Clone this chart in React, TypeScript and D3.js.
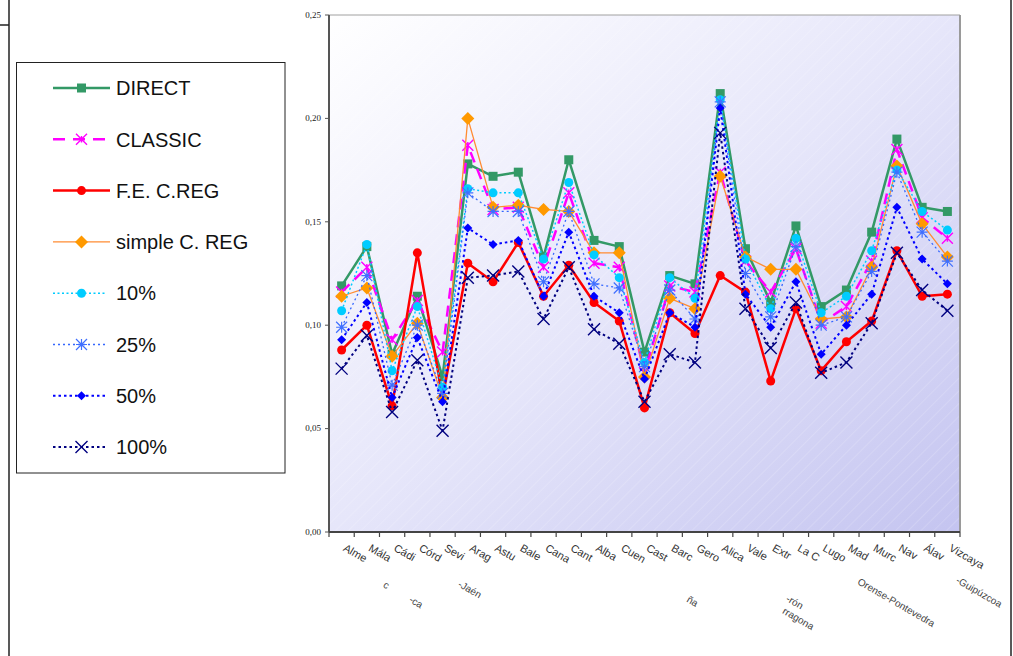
import React from 'react'
import * as d3 from 'd3'

// province labels as they show under the axis (Excel cut them short)
const categories = [
  'Alme', 'Mála', 'Cádi', 'Córd', 'Sevi', 'Arag', 'Astu', 'Bale', 'Cana', 'Cant',
  'Alba', 'Cuen', 'Cast', 'Barc', 'Gero', 'Alica', 'Vale', 'Extr', 'La C', 'Lugo',
  'Mad', 'Murc', 'Nav', 'Álav', 'Vizcaya',
]

// stray pieces of wrapped second lines: category index, text, line number, shift along the label
const labelFragments = [
  { index: 1, text: 'c', line: 2, shift: 31 },
  { index: 2, text: '-ca', line: 3, shift: 39 },
  { index: 4, text: '-Jaén', line: 2, shift: 30 },
  { index: 13, text: 'ña', line: 3, shift: 39 },
  { index: 16, text: '-rón', line: 2, shift: 59 },
  { index: 16, text: 'rragona', line: 3, shift: 62 },
  { index: 20, text: 'Orense-Pontevedra', line: 2, shift: 25 },
  { index: 24, text: '-Guipúzcoa', line: 2, shift: 22 },
]

const yTicks = [0, 0.05, 0.1, 0.15, 0.2, 0.25]

const direct = [0.119, 0.138, 0.086, 0.114, 0.075, 0.178, 0.172, 0.174, 0.133, 0.18, 0.141, 0.138, 0.087, 0.124, 0.12, 0.212, 0.137, 0.111, 0.148, 0.109, 0.117, 0.145, 0.19, 0.157, 0.155]
const classic = [0.116, 0.128, 0.093, 0.112, 0.087, 0.187, 0.156, 0.157, 0.128, 0.164, 0.13, 0.128, 0.077, 0.119, 0.116, 0.174, 0.131, 0.116, 0.137, 0.101, 0.109, 0.131, 0.185, 0.152, 0.142]
const feCReg = [0.088, 0.1, 0.061, 0.135, 0.065, 0.13, 0.121, 0.14, 0.114, 0.129, 0.111, 0.102, 0.06, 0.106, 0.096, 0.124, 0.116, 0.073, 0.108, 0.078, 0.092, 0.102, 0.136, 0.114, 0.115]
const simpleCReg = [0.114, 0.118, 0.085, 0.101, 0.065, 0.2, 0.157, 0.158, 0.156, 0.155, 0.135, 0.135, 0.075, 0.113, 0.108, 0.172, 0.133, 0.127, 0.127, 0.103, 0.104, 0.128, 0.177, 0.149, 0.133]
const p10 = [0.107, 0.139, 0.078, 0.109, 0.07, 0.166, 0.164, 0.164, 0.132, 0.169, 0.134, 0.123, 0.082, 0.123, 0.113, 0.209, 0.132, 0.108, 0.142, 0.106, 0.114, 0.136, 0.175, 0.155, 0.146]
const p25 = [0.099, 0.124, 0.071, 0.1, 0.067, 0.164, 0.155, 0.155, 0.121, 0.155, 0.12, 0.118, 0.08, 0.117, 0.103, 0.208, 0.125, 0.104, 0.138, 0.1, 0.104, 0.126, 0.174, 0.145, 0.131]
const p50 = [0.093, 0.111, 0.065, 0.094, 0.063, 0.147, 0.139, 0.141, 0.114, 0.145, 0.114, 0.106, 0.074, 0.106, 0.099, 0.205, 0.115, 0.099, 0.121, 0.086, 0.1, 0.115, 0.157, 0.132, 0.12]
const p100 = [0.079, 0.095, 0.058, 0.083, 0.049, 0.123, 0.124, 0.126, 0.103, 0.128, 0.098, 0.091, 0.063, 0.086, 0.082, 0.193, 0.108, 0.089, 0.111, 0.077, 0.082, 0.101, 0.135, 0.117, 0.107]

const series = [
  { name: 'DIRECT', values: direct, stroke: '#339966', width: 2.5, dash: null, marker: 'square', fill: '#339966', size: 9 },
  { name: 'CLASSIC', values: classic, stroke: '#FF00FF', width: 2.5, dash: '11,7', marker: 'star', fill: '#FF00FF', size: 11 },
  { name: 'F.E. C.REG', values: feCReg, stroke: '#FF0000', width: 2.5, dash: null, marker: 'circle', fill: '#FF0000', size: 9 },
  { name: 'simple C. REG', values: simpleCReg, stroke: '#FF8C33', width: 1.3, dash: null, marker: 'diamond', fill: '#FF9900', size: 13 },
  { name: '10%', values: p10, stroke: '#00CCFF', width: 1.5, dash: '2,2.5', marker: 'circle', fill: '#00CCFF', size: 9 },
  { name: '25%', values: p25, stroke: '#3366FF', width: 1.3, dash: '2,3', marker: 'asterisk', fill: '#3F6FFF', size: 11 },
  { name: '50%', values: p50, stroke: '#0000FF', width: 2, dash: '2.5,3', marker: 'diamond', fill: '#0000FF', size: 9 },
  { name: '100%', values: p100, stroke: '#000080', width: 2, dash: '2.5,3', marker: 'x', fill: '#000080', size: 12 },
]

const W = 1013
const H = 656
const plot = { left: 329, right: 960, top: 15, bottom: 532 }

const Marker = ({ type, x, y, color, size }) => {
  const h = size / 2
  if (type === 'square') return <rect x={x - h} y={y - h} width={size} height={size} fill={color} />
  if (type === 'circle') return <circle cx={x} cy={y} r={h} fill={color} />
  if (type === 'diamond')
    return <path d={`M${x},${y - h}L${x + h},${y}L${x},${y + h}L${x - h},${y}Z`} fill={color} />
  const xs = `M${x - h},${y - h}L${x + h},${y + h}M${x - h},${y + h}L${x + h},${y - h}`
  if (type === 'x') return <path d={xs} stroke={color} strokeWidth={1.4} fill="none" />
  if (type === 'star')
    return <path d={`${xs}M${x},${y - h * 0.6}L${x},${y + h * 0.6}`} stroke={color} strokeWidth={1.4} fill="none" />
  // asterisk: x plus vertical and horizontal spokes
  return (
    <path
      d={`${xs}M${x},${y - h}L${x},${y + h}M${x - h},${y}L${x + h},${y}`}
      stroke={color}
      strokeWidth={1.2}
      fill="none"
    />
  )
}

const App = () => {
  const x = d3.scaleBand().domain(categories.map((c, i) => String(i))).range([plot.left, plot.right])
  const y = d3.scaleLinear().domain([0, 0.25]).range([plot.bottom, plot.top])
  const bw = x.bandwidth()
  const cx = (i) => x(String(i)) + bw / 2

  const fmt = d3.formatLocale({ decimal: ',', thousands: '.', grouping: [3], currency: ['', ''] }).format('.2f')

  const line = d3
    .line()
    .x((d, i) => cx(i))
    .y((d) => y(d))

  const rad = Math.PI / 6
  const labelPos = (i, line, shift) => {
    // rotated frame: along the text and across it
    const ax = cx(i) + 5
    const ay = plot.bottom + 11
    const v = line * 12.5
    return [ax + Math.cos(rad) * shift - Math.sin(rad) * v, ay + Math.sin(rad) * shift + Math.cos(rad) * v]
  }

  const legendTop = 88
  const legendStep = 51.3

  return (
    <svg width={W} height={H} style={{ position: 'absolute', left: 0, top: 0, background: '#fff' }}>
      <defs>
        <linearGradient id="plotbg" x1="0" y1="0" x2="1" y2="1">
          <stop offset="0" stopColor="#ffffff" />
          <stop offset="0.5" stopColor="#e6e6fa" />
          <stop offset="1" stopColor="#c4c4f0" />
        </linearGradient>
        <pattern id="hatch" width="9" height="9" patternUnits="userSpaceOnUse" patternTransform="rotate(45)">
          <line x1="0" y1="0" x2="0" y2="9" stroke="#ffffff" strokeWidth="0.7" strokeOpacity="0.45" />
        </pattern>
      </defs>

      {/* outer frame bits */}
      <line x1={9} y1={0} x2={9} y2={H} stroke="#222" strokeWidth={1.5} />
      <line x1={0} y1={25} x2={9} y2={25} stroke="#222" strokeWidth={1.5} />
      <line x1={1011} y1={0} x2={1011} y2={H} stroke="#222" strokeWidth={1.5} />

      {/* plot area */}
      <rect x={plot.left} y={plot.top} width={plot.right - plot.left} height={plot.bottom - plot.top} fill="url(#plotbg)" />
      <rect x={plot.left} y={plot.top} width={plot.right - plot.left} height={plot.bottom - plot.top} fill="url(#hatch)" />
      <line x1={plot.left} y1={plot.top} x2={plot.right} y2={plot.top} stroke="#a0a0a0" strokeWidth={1} />
      <line x1={plot.right} y1={plot.top} x2={plot.right} y2={plot.bottom} stroke="#9a9a9a" strokeWidth={2} />

      {/* y axis */}
      <line x1={plot.left} y1={plot.top} x2={plot.left} y2={plot.bottom} stroke="#555" strokeWidth={2} />
      {yTicks.map((t) => (
        <g key={t}>
          <line x1={plot.left - 4} y1={y(t)} x2={plot.left} y2={y(t)} stroke="#555" strokeWidth={1} />
          <text x={321} y={y(t)} dy="0.32em" textAnchor="end" fontSize={9} fontFamily="'Liberation Serif', 'DejaVu Serif', serif" fill="#222">
            {fmt(t)}
          </text>
        </g>
      ))}

      {/* x axis */}
      <line x1={plot.left} y1={plot.bottom} x2={plot.right} y2={plot.bottom} stroke="#444" strokeWidth={2} />
      {categories.map((c, i) => (
        <line key={`tk${i}`} x1={x(String(i))} y1={plot.bottom} x2={x(String(i))} y2={plot.bottom + 5} stroke="#444" strokeWidth={1.2} />
      ))}
      <line x1={plot.right} y1={plot.bottom} x2={plot.right} y2={plot.bottom + 5} stroke="#444" strokeWidth={1.2} />
      {categories.map((c, i) => {
        const [lx, ly] = labelPos(i, 0, 0)
        return (
          <text
            key={`lb${i}`}
            transform={`translate(${lx},${ly}) rotate(30)`}
            dy="0.75em"
            fontSize={11}
            fontFamily="'Liberation Sans', Arial, sans-serif"
            fill="#333"
          >
            {c}
          </text>
        )
      })}
      {labelFragments.map((f, k) => {
        const [lx, ly] = labelPos(f.index, f.line, f.shift)
        return (
          <text
            key={`fr${k}`}
            transform={`translate(${lx},${ly}) rotate(30)`}
            dy="0.75em"
            fontSize={10}
            fontFamily="'Liberation Sans', Arial, sans-serif"
            fill="#444"
          >
            {f.text}
          </text>
        )
      })}

      {/* series */}
      {series.map((s) => (
        <g key={s.name}>
          <path d={line(s.values)} fill="none" stroke={s.stroke} strokeWidth={s.width} strokeDasharray={s.dash || undefined} strokeLinejoin="round" />
          {s.values.map((v, i) => (
            <Marker key={i} type={s.marker} x={cx(i)} y={y(v)} color={s.fill} size={s.size} />
          ))}
        </g>
      ))}

      {/* legend */}
      <rect x={16.5} y={62.5} width={268.5} height={410.5} fill="#fff" stroke="#222" strokeWidth={1} />
      {series.map((s, i) => {
        const ly = legendTop + i * legendStep
        const solid = !s.dash
        return (
          <g key={`lg${i}`}>
            <line
              x1={53}
              y1={ly}
              x2={solid || s.name === 'CLASSIC' ? 110 : 106}
              y2={ly}
              stroke={s.stroke}
              strokeWidth={s.width}
              strokeDasharray={s.name === 'CLASSIC' ? '12,8' : s.dash || undefined}
            />
            <Marker type={s.marker} x={81.5} y={ly} color={s.fill} size={s.size} />
            <text x={116} y={ly} dy="0.36em" fontSize={20} fontFamily="'Liberation Sans', Arial, sans-serif" fill="#111">
              {s.name}
            </text>
          </g>
        )
      })}
    </svg>
  )
}

export default App
